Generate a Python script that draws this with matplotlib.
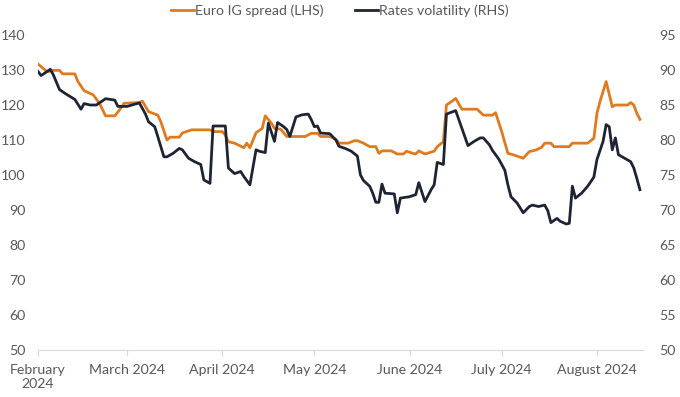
import pandas as pd
import matplotlib.pyplot as plt

# =========================
# DATA
# =========================
ig_dates = [
    "2024-02-01", "2024-02-04", "2024-02-06", "2024-02-08", "2024-02-09", "2024-02-13",
    "2024-02-14", "2024-02-16", "2024-02-19", "2024-02-21", "2024-02-23", "2024-02-26",
    "2024-02-28", "2024-02-29", "2024-03-05", "2024-03-06", "2024-03-08", "2024-03-11",
    "2024-03-12", "2024-03-14", "2024-03-15", "2024-03-18", "2024-03-19", "2024-03-22",
    "2024-03-28", "2024-03-29", "2024-04-01", "2024-04-02", "2024-04-03", "2024-04-05",
    "2024-04-08", "2024-04-09", "2024-04-10", "2024-04-12", "2024-04-14", "2024-04-15",
    "2024-04-17", "2024-04-18", "2024-04-20", "2024-04-22", "2024-04-28", "2024-04-30",
    "2024-05-02", "2024-05-03", "2024-05-06", "2024-05-08", "2024-05-09", "2024-05-12",
    "2024-05-14", "2024-05-15", "2024-05-17", "2024-05-19", "2024-05-21", "2024-05-22",
    "2024-05-23", "2024-05-26", "2024-05-28", "2024-05-30", "2024-05-31", "2024-06-02",
    "2024-06-03", "2024-06-04", "2024-06-06", "2024-06-09", "2024-06-10", "2024-06-12",
    "2024-06-13", "2024-06-15", "2024-06-16", "2024-06-18", "2024-06-23", "2024-06-25",
    "2024-06-28", "2024-06-29", "2024-07-01", "2024-07-03", "2024-07-05", "2024-07-08",
    "2024-07-10", "2024-07-12", "2024-07-14", "2024-07-15", "2024-07-17", "2024-07-18",
    "2024-07-23", "2024-07-24", "2024-07-29", "2024-07-31", "2024-08-01", "2024-08-02",
    "2024-08-04", "2024-08-06", "2024-08-07", "2024-08-11", "2024-08-12", "2024-08-13",
    "2024-08-14", "2024-08-15",
]
ig_spread = [
    131.7, 129.5, 129.9, 129.9, 128.9, 128.9,
    126.7, 124.1, 122.9, 120.5, 116.9, 116.9,
    119.1, 120.5, 120.7, 121.1, 118.1, 117.1,
    115.2, 110.0, 110.8, 110.8, 112.0, 112.9,
    112.9, 112.4, 112.4, 111.4, 109.5, 109.1,
    107.8, 109.1, 107.8, 112.1, 113.3, 116.9,
    114.8, 113.3, 113.1, 111.0, 111.0, 111.9,
    111.9, 111.0, 111.0, 110.2, 109.1, 109.1,
    109.8, 109.8, 109.1, 108.1, 108.1, 106.2,
    106.9, 106.9, 106.0, 106.0, 106.8, 106.2,
    106.0, 106.9, 106.0, 106.8, 108.1, 109.5,
    120.0, 121.2, 121.9, 118.8, 118.8, 117.1,
    117.1, 117.8, 112.4, 106.2, 105.7, 104.8,
    106.7, 107.1, 107.9, 109.1, 109.1, 108.1,
    108.1, 109.1, 109.1, 110.5, 117.6, 121.0,
    126.7, 119.5, 120.0, 120.0, 120.7, 120.0,
    117.6, 115.9,
]

vol_dates = [
    "2024-02-01", "2024-02-02", "2024-02-03", "2024-02-05", "2024-02-06", "2024-02-08",
    "2024-02-10", "2024-02-13", "2024-02-15", "2024-02-16", "2024-02-18", "2024-02-20",
    "2024-02-21", "2024-02-23", "2024-02-26", "2024-02-27", "2024-03-01", "2024-03-05",
    "2024-03-07", "2024-03-08", "2024-03-10", "2024-03-11", "2024-03-13", "2024-03-14",
    "2024-03-16", "2024-03-18", "2024-03-19", "2024-03-21", "2024-03-23", "2024-03-25",
    "2024-03-26", "2024-03-28", "2024-03-29", "2024-04-02", "2024-04-03", "2024-04-05",
    "2024-04-07", "2024-04-08", "2024-04-10", "2024-04-12", "2024-04-13", "2024-04-15",
    "2024-04-16", "2024-04-18", "2024-04-19", "2024-04-21", "2024-04-22", "2024-04-23",
    "2024-04-25", "2024-04-27", "2024-04-29", "2024-04-30", "2024-05-01", "2024-05-02",
    "2024-05-03", "2024-05-06", "2024-05-08", "2024-05-09", "2024-05-11", "2024-05-13",
    "2024-05-15", "2024-05-16", "2024-05-17", "2024-05-19", "2024-05-20", "2024-05-21",
    "2024-05-22", "2024-05-23", "2024-05-24", "2024-05-27", "2024-05-28", "2024-05-29",
    "2024-06-01", "2024-06-03", "2024-06-04", "2024-06-06", "2024-06-08", "2024-06-09",
    "2024-06-10", "2024-06-12", "2024-06-13", "2024-06-16", "2024-06-18", "2024-06-20",
    "2024-06-22", "2024-06-24", "2024-06-25", "2024-06-27", "2024-06-28", "2024-06-30",
    "2024-07-02", "2024-07-03", "2024-07-04", "2024-07-06", "2024-07-08", "2024-07-10",
    "2024-07-11", "2024-07-13", "2024-07-15", "2024-07-16", "2024-07-17", "2024-07-19",
    "2024-07-20", "2024-07-22", "2024-07-23", "2024-07-24", "2024-07-25", "2024-07-27",
    "2024-07-29", "2024-07-31", "2024-08-01", "2024-08-03", "2024-08-04", "2024-08-05",
    "2024-08-06", "2024-08-07", "2024-08-08", "2024-08-12", "2024-08-13", "2024-08-14",
    "2024-08-15",
]
rates_vol = [
    89.8, 89.2, 89.5, 90.1, 89.3, 87.2,
    86.6, 85.8, 84.4, 85.2, 85.0, 85.0,
    85.3, 85.9, 85.7, 84.8, 84.8, 85.3,
    83.7, 82.6, 81.9, 80.5, 77.6, 77.6,
    78.1, 78.8, 78.6, 77.4, 76.9, 76.5,
    74.3, 73.8, 82.0, 82.0, 76.0, 75.2,
    75.5, 74.8, 73.6, 78.6, 78.4, 78.2,
    82.4, 79.8, 82.5, 81.9, 81.5, 80.5,
    83.3, 83.6, 83.7, 82.9, 81.9, 82.0,
    81.0, 80.9, 80.0, 79.1, 78.8, 78.4,
    77.7, 75.0, 74.2, 73.4, 72.4, 71.1,
    71.1, 73.7, 72.4, 72.3, 69.6, 71.7,
    71.9, 72.2, 73.9, 71.2, 72.9, 73.6,
    76.8, 76.5, 83.7, 84.2, 81.7, 79.2,
    79.8, 80.3, 80.3, 79.3, 78.5, 77.3,
    75.7, 73.6, 71.9, 71.0, 69.6, 70.5,
    70.7, 70.5, 70.7, 69.9, 68.2, 68.8,
    68.4, 68.0, 68.1, 73.4, 71.7, 72.4,
    73.4, 74.7, 77.2, 79.8, 82.2, 81.9,
    78.6, 80.3, 77.9, 76.9, 76.0, 74.5,
    72.9,
]

month_ticks = ["2024-02-01", "2024-03-01", "2024-04-01", "2024-05-01",
               "2024-06-01", "2024-07-01", "2024-08-01"]
month_labels = ["February\n2024", "March 2024", "April 2024", "May 2024",
                "June 2024", "July 2024", "August 2024"]

# =========================
# FIGURE
# =========================
plt.rcParams["font.family"] = ["Lato", "DejaVu Sans"]
text_col = "#595959"
orange = "#E07A1F"
navy = "#1E2433"
fs = 10.2

fig = plt.figure(figsize=(6.8, 3.97), dpi=100)
ax = fig.add_axes([38 / 680, 1 - 350 / 397, (643 - 38) / 680, (350 - 35) / 397])
ax2 = ax.twinx()

l1, = ax.plot(pd.to_datetime(ig_dates), ig_spread, color=orange, lw=2.0,
              label="Euro IG spread (LHS)", zorder=2)
l2, = ax2.plot(pd.to_datetime(vol_dates), rates_vol, color=navy, lw=2.0,
               label="Rates volatility (RHS)", zorder=3)

ax.set_ylim(50, 140)
ax.set_yticks(range(50, 141, 10))
ax2.set_ylim(50, 95)
ax2.set_yticks(range(50, 96, 5))
ax.set_xlim(pd.Timestamp("2024-02-01"), pd.Timestamp("2024-08-16"))
ax.set_xticks(pd.to_datetime(month_ticks))
ax.set_xticklabels(month_labels)

# only a light grey bottom axis line
for a in (ax, ax2):
    for s in ("top", "left", "right", "bottom"):
        a.spines[s].set_visible(False)
ax.spines["bottom"].set_visible(True)
ax.spines["bottom"].set_color("#D9D9D9")

ax.tick_params(axis="x", colors="#D9D9D9", length=4, width=0.8, pad=6,
               labelcolor=text_col, labelsize=fs)
ax.tick_params(axis="y", length=0, pad=9, labelcolor=text_col, labelsize=fs)
ax2.tick_params(axis="y", length=0, pad=12, labelcolor=text_col, labelsize=fs)

fig.legend(handles=[l1, l2], loc="upper center", bbox_to_anchor=(0.5, 1.02),
           ncol=2, frameon=False, fontsize=fs, handlelength=1.6,
           handletextpad=0.1, columnspacing=2.2, labelcolor=text_col)

fig.savefig("out.png", dpi=100)
